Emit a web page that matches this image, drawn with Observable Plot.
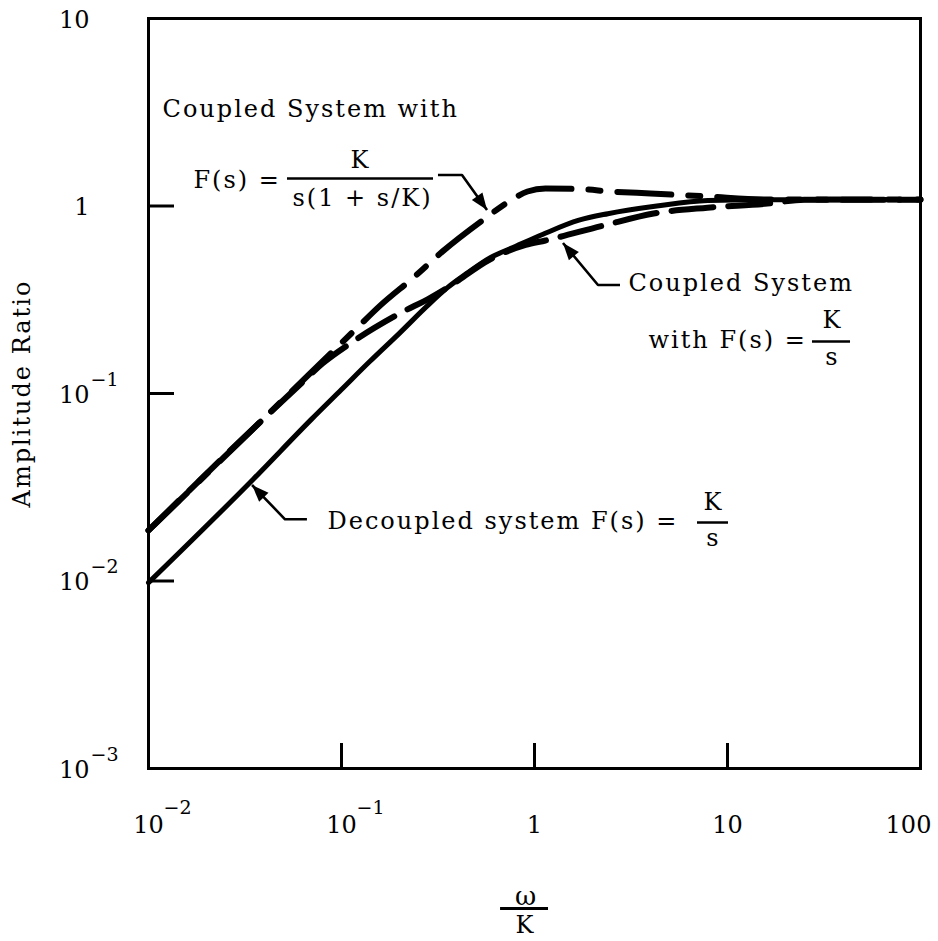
<!DOCTYPE html>
<html>
<head>
<meta charset="utf-8">
<script src="https://cdn.jsdelivr.net/npm/d3@7"></script>
<script src="https://cdn.jsdelivr.net/npm/@observablehq/plot@0.6"></script>
<style>
  html, body { margin: 0; padding: 0; background: #fff; }
  #chart svg { display: block; }
</style>
</head>
<body>
<div id="chart"></div>
<script>
// ---------- data (ω/K, amplitude ratio) ----------
const decoupledW = [0.01, 0.035, 0.07, 0.1, 0.14, 0.2, 0.28, 0.354, 0.45, 0.59, 0.8, 1.1, 1.7, 2.4, 4.3, 7.9, 16, 100];
const decoupledA = [0.0098, 0.035, 0.073, 0.105, 0.148, 0.21, 0.295, 0.367, 0.44, 0.53, 0.61, 0.705, 0.84, 0.91, 1.0, 1.07, 1.08, 1.08];

const coupledKsW = [0.01, 0.03, 0.06, 0.08, 0.111, 0.2, 0.29, 0.354, 0.59, 0.9, 1.14, 2.28, 4.14, 7.87, 16.1, 25, 100];
const coupledKsA = [0.0186, 0.056, 0.11, 0.145, 0.185, 0.267, 0.325, 0.367, 0.52, 0.62, 0.655, 0.787, 0.912, 0.98, 1.03, 1.08, 1.08];

const coupledLagW = [0.01, 0.05, 0.121, 0.159, 0.239, 0.333, 0.545, 0.751, 0.92, 1.14, 1.73, 2.48, 3.99, 7.87, 16.1, 100];
const coupledLagA = [0.0186, 0.093, 0.225, 0.295, 0.42, 0.571, 0.847, 1.07, 1.195, 1.24, 1.23, 1.195, 1.166, 1.124, 1.083, 1.083];

const xTickValues = [0.01, 0.1, 1, 10, 100];
const xTickBase = ["10", "10", "1", "10", "100"];
const xTickExp = ["\u22122", "\u22121", "", "", ""];
const yTickValues = [10, 1, 0.1, 0.01, 0.001];
const yTickBase = ["10", "1", "10", "10", "10"];
const yTickExp = ["", "", "\u22121", "\u22122", "\u22123"];
const xInnerTicks = [0.1, 1, 10];
const yInnerTicks = [1, 0.1, 0.01];

// ---------- tables built from the arrays ----------
const rows = (w, a) => w.map((x, i) => ({x, y: a[i]}));
const decoupled = rows(decoupledW, decoupledA);
const coupledKs = rows(coupledKsW, coupledKsA);
const coupledLag = rows(coupledLagW, coupledLagA);
const xTicks = xTickValues.map((v, i) => ({v, base: xTickBase[i], exp: xTickExp[i]}));
const yTicks = yTickValues.map((v, i) => ({v, base: yTickBase[i], exp: yTickExp[i]}));

const FONT = "DejaVu Serif";
const FS = 24;

// leader lines with filled arrowheads (annotation geometry, in data space)
function leaders(index, scales) {
  const paths = [
    [[0.318, 1.454], [0.4236, 1.454], [0.571, 0.946]],
    [[2.79, 0.3767], [2.146, 0.3767], [1.413, 0.631]],
    [[0.0666, 0.0212], [0.0513, 0.0212], [0.0346, 0.0323]]
  ];
  const g = d3.create("svg:g").attr("aria-label", "leaders");
  for (const pts of paths) {
    const p = pts.map(([a, b]) => [scales.x(a), scales.y(b)]);
    g.append("path")
      .attr("d", d3.line()(p))
      .attr("fill", "none")
      .attr("stroke", "#000")
      .attr("stroke-width", 2.6)
      .attr("stroke-linejoin", "round");
    const [x0, y0] = p[p.length - 2], [x1, y1] = p[p.length - 1];
    const len = Math.hypot(x1 - x0, y1 - y0), ux = (x1 - x0) / len, uy = (y1 - y0) / len;
    const L = 17, W = 6.5;
    const bx = x1 - ux * L, by = y1 - uy * L;
    g.append("path")
      .attr("d", `M${x1},${y1}L${bx - uy * W},${by + ux * W}L${bx + uy * W},${by - ux * W}Z`)
      .attr("fill", "#000");
  }
  return g.node();
}

const chart = Plot.plot({
  width: 938,
  height: 941,
  marginLeft: 148,
  marginRight: 18,
  marginTop: 18,
  marginBottom: 173,
  style: {fontFamily: FONT, background: "#fff", color: "#000", overflow: "visible"},
  x: {type: "log", domain: [0.01, 100], axis: null},
  y: {type: "log", domain: [0.001, 10], axis: null},
  marks: [
    Plot.frame({stroke: "#000", strokeWidth: 3}),
    // inward ticks
    Plot.ruleX(xInnerTicks, {x: d => d, stroke: "#000", strokeWidth: 3, insetTop: 725}),
    Plot.ruleY(yInnerTicks, {y: d => d, stroke: "#000", strokeWidth: 3, insetRight: 746}),
    // y tick labels
    Plot.text(yTicks, {y: "v", text: "base", frameAnchor: "left", textAnchor: "end", lineAnchor: "bottom", dx: -59, dy: 9, fontSize: FS, fill: "#000"}),
    Plot.text(yTicks, {y: "v", text: "exp", frameAnchor: "left", textAnchor: "start", lineAnchor: "bottom", dx: -58, dy: -8, fontSize: 19, fill: "#000"}),
    // x tick labels
    Plot.text(xTicks.filter(d => d.v < 100), {x: "v", text: "base", frameAnchor: "bottom", textAnchor: "middle", lineAnchor: "bottom", dy: 64, fontSize: FS, fill: "#000"}),
    Plot.text(xTicks.filter(d => d.v >= 100), {x: "v", text: "base", frameAnchor: "bottom", textAnchor: "middle", lineAnchor: "bottom", dx: -12, dy: 64, fontSize: FS, fill: "#000"}),
    Plot.text(xTicks, {x: "v", text: "exp", frameAnchor: "bottom", textAnchor: "start", lineAnchor: "bottom", dx: 15, dy: 45, fontSize: 19, fill: "#000"}),
    // axis titles
    Plot.text(["Amplitude Ratio"], {frameAnchor: "left", textAnchor: "middle", dx: -126, rotate: -90, fontSize: FS, fill: "#000"}),
    Plot.text(["\u03c9"], {frameAnchor: "bottom", textAnchor: "middle", dx: -9, dy: 136, lineAnchor: "bottom", fontSize: 26, fill: "#000"}),
    Plot.ruleY([1.792e-4], {x1: 0.667, x2: 1.182, stroke: "#000", strokeWidth: 3}),
    Plot.text(["K"], {frameAnchor: "bottom", textAnchor: "middle", dx: -9, dy: 164, lineAnchor: "bottom", fontSize: FS, fill: "#000"}),
    // curves
    Plot.line(decoupled, {x: "x", y: "y", stroke: "#000", strokeWidth: 5, curve: "monotone-x", strokeLinecap: "round"}),
    Plot.line(coupledKs, {x: "x", y: "y", stroke: "#000", strokeWidth: 6, curve: "monotone-x", strokeLinecap: "round", strokeDasharray: "42,15"}),
    Plot.line(coupledLag, {x: "x", y: "y", stroke: "#000", strokeWidth: 6, curve: "monotone-x", strokeLinecap: "round", strokeDasharray: "54,17,12,17"}),
    // annotations
    Plot.text(["Coupled System with"], {x: 0.01182, y: 3.0, textAnchor: "start", lineAnchor: "bottom", fontSize: FS, fill: "#000"}),
    Plot.text(["F(s) ="], {x: 0.0171, y: 1.255, textAnchor: "start", lineAnchor: "bottom", fontSize: FS, fill: "#000"}),
    Plot.text(["K"], {x: 0.1254, y: 1.585, textAnchor: "middle", lineAnchor: "bottom", fontSize: FS, fill: "#000"}),
    Plot.ruleY([1.402], {x1: 0.0525, x2: 0.2997, stroke: "#000", strokeWidth: 2.5}),
    Plot.text(["s(1 + s/K)"], {x: 0.1285, y: 1.006, textAnchor: "middle", lineAnchor: "bottom", fontSize: FS, fill: "#000"}),
    Plot.text(["Coupled System"], {x: 3.069, y: 0.35, textAnchor: "start", lineAnchor: "bottom", fontSize: FS, fill: "#000"}),
    Plot.text(["with F(s) ="], {x: 3.897, y: 0.1738, textAnchor: "start", lineAnchor: "bottom", fontSize: FS, fill: "#000"}),
    Plot.text(["K"], {x: 34.99, y: 0.2222, textAnchor: "middle", lineAnchor: "bottom", fontSize: FS, fill: "#000"}),
    Plot.ruleY([0.1894], {x1: 27.56, x2: 43.39, stroke: "#000", strokeWidth: 2.5}),
    Plot.text(["s"], {x: 34.99, y: 0.1411, textAnchor: "middle", lineAnchor: "bottom", fontSize: FS, fill: "#000"}),
    Plot.text(["Decoupled system F(s) ="], {x: 0.0846, y: 0.01905, textAnchor: "start", lineAnchor: "bottom", fontSize: FS, fill: "#000"}),
    Plot.text(["K"], {x: 8.46, y: 0.02377, textAnchor: "middle", lineAnchor: "bottom", fontSize: FS, fill: "#000"}),
    Plot.ruleY([0.02051], {x1: 6.99, x2: 10.12, stroke: "#000", strokeWidth: 2.5}),
    Plot.text(["s"], {x: 8.46, y: 0.01546, textAnchor: "middle", lineAnchor: "bottom", fontSize: FS, fill: "#000"}),
    leaders
  ]
});

// wider letter spacing on the word labels, like the typewriter-style original
d3.select(chart).selectAll("text")
  .filter(function () { return /[A-Za-z]/.test(this.textContent); })
  .attr("letter-spacing", "2px");

document.getElementById("chart").appendChild(chart);
</script>
</body>
</html>
